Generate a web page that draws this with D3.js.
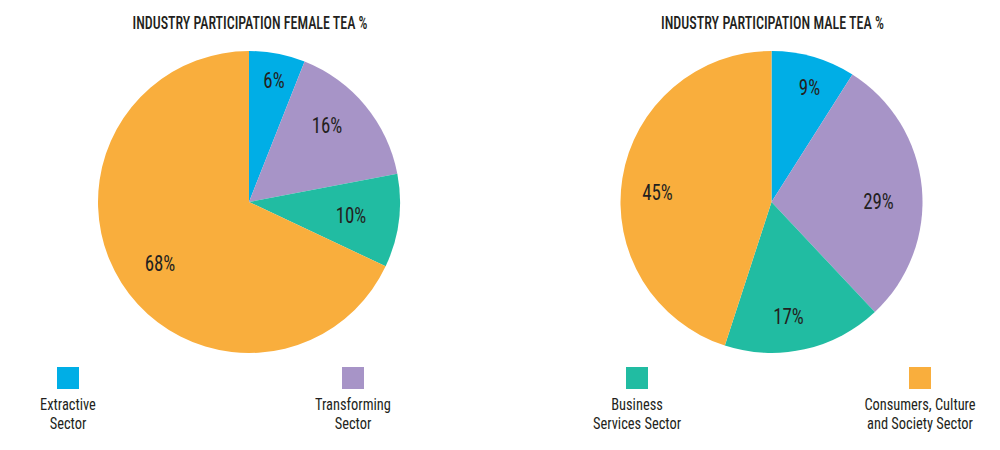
<!DOCTYPE html>
<html>
<head>
<meta charset="utf-8">
<script src="https://cdn.jsdelivr.net/npm/d3@7"></script>
<style>
  html, body { margin: 0; padding: 0; background: #fff; }
  text { font-family: "Liberation Sans Narrow", "Roboto Condensed", Roboto, "Arial Narrow", sans-serif; fill: #231f20; }
</style>
</head>
<body>
<svg id="chart" width="1000" height="450"></svg>
<script>
// ---- data ----
const sectors = ["Extractive Sector", "Transforming Sector", "Business Services Sector", "Consumers, Culture and Society Sector"];
const femaleValues = [6, 16, 10, 68];
const maleValues = [9, 29, 17, 45];
const titles = ["INDUSTRY PARTICIPATION FEMALE TEA %", "INDUSTRY PARTICIPATION MALE TEA %"];
const legendLines = [["Extractive", "Sector"], ["Transforming", "Sector"], ["Business", "Services Sector"], ["Consumers, Culture", "and Society Sector"]];

// ---- layout / style ----
const colors = ["#00aee6", "#a794c7", "#21bca2", "#f9ae3d"];
const pies = [
  { values: femaleValues, cx: 249, cy: 202, r: 151, title: titles[0], titleW: 235,
    labelOffsets: [[25, -122], [78, -77], [102, 13], [-89, 61]] },
  { values: maleValues, cx: 771.5, cy: 202, r: 151, title: titles[1], titleW: 223,
    labelOffsets: [[38, -115], [107, -1], [17, 114], [-114, -10]] }
];
const legendX = [68, 353, 637, 920];

function condense(sel, factor) {
  sel.each(function () {
    const w = this.getComputedTextLength();
    d3.select(this).attr("textLength", w * factor).attr("lengthAdjust", "spacingAndGlyphs");
  });
}

const svg = d3.select("#chart");
const pie = d3.pie().sort(null).value(d => d);

pies.forEach(p => {
  const arc = d3.arc().innerRadius(0).outerRadius(p.r);
  const g = svg.append("g").attr("transform", `translate(${p.cx},${p.cy})`);
  const arcs = pie(p.values);
  g.selectAll("path").data(arcs).join("path")
    .attr("d", arc)
    .attr("fill", (d, i) => colors[i]);
  const lbl = g.selectAll("text.lbl").data(arcs).join("text")
    .attr("class", "lbl")
    .attr("x", (d, i) => p.labelOffsets[i][0])
    .attr("y", (d, i) => p.labelOffsets[i][1])
    .attr("dy", "0.35em")
    .attr("text-anchor", "middle")
    .attr("font-size", 22)
    .text(d => d.data + "%");
  condense(lbl, 0.86);
  svg.append("text")
    .attr("x", p.cx + 1)
    .attr("y", 29)
    .attr("text-anchor", "middle")
    .attr("font-size", 18)
    .attr("font-weight", 500)
    .attr("textLength", p.titleW)
    .attr("lengthAdjust", "spacingAndGlyphs")
    .text(p.title);
});

const lg = svg.append("g");
sectors.forEach((s, i) => {
  lg.append("rect")
    .attr("x", legendX[i] - 11).attr("y", 367)
    .attr("width", 22).attr("height", 22)
    .attr("fill", colors[i]);
  legendLines[i].forEach((line, j) => {
    const t = lg.append("text")
      .attr("x", legendX[i])
      .attr("y", 410 + j * 19)
      .attr("text-anchor", "middle")
      .attr("font-size", 16)
      .text(line);
    condense(t, 0.9);
  });
});
</script>
</body>
</html>
